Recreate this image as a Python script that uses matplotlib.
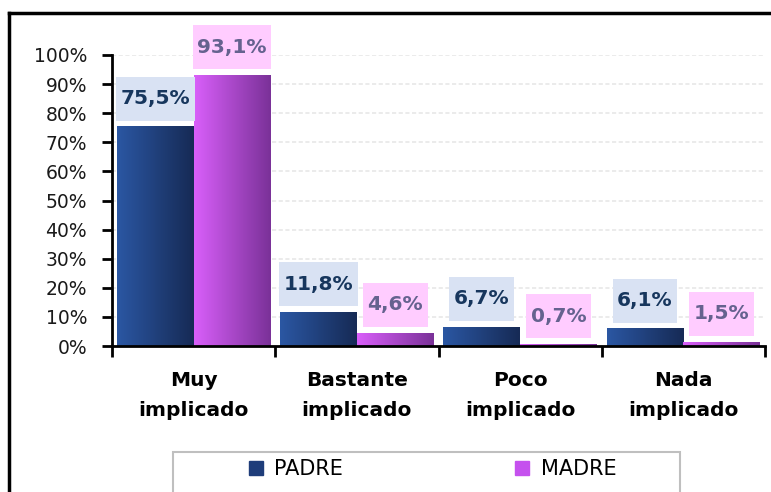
import numpy as np
import matplotlib
matplotlib.use("Agg")
import matplotlib.pyplot as plt
from matplotlib.colors import LinearSegmentedColormap
from matplotlib.patches import Rectangle
from matplotlib.lines import Line2D

categories = ["Muy\nimplicado", "Bastante\nimplicado", "Poco\nimplicado", "Nada\nimplicado"]
padre = [75.5, 11.8, 6.7, 6.1]
madre = [93.1, 4.6, 0.7, 1.5]
series_names = ["PADRE", "MADRE"]
yticks = np.arange(0, 101, 10)

# colour scheme: (gradient left, gradient right, label box, label text)
styles = {
    "PADRE": ("#2b57a3", "#162a55", "#d9e2f3", "#17365d"),
    "MADRE": ("#d95ffa", "#7a3198", "#ffccff", "#65628f"),
}

fig = plt.figure(figsize=(7.71, 4.92), dpi=100)
ax = fig.add_axes([112 / 771, 1 - 346 / 492, (765 - 112) / 771, (346 - 55) / 492])

x = np.arange(len(categories))
width = 0.47
grad = np.linspace(0, 1, 256).reshape(1, -1)

texts = []
for offset, name, vals in [(-width / 2, "PADRE", padre), (width / 2, "MADRE", madre)]:
    c0, c1, boxc, txtc = styles[name]
    cmap = LinearSegmentedColormap.from_list(name, [c0, c1])
    bars = ax.bar(x + offset, vals, width, facecolor="none", edgecolor="none", zorder=2)
    for rect, v in zip(bars, vals):
        bx, bw, bh = rect.get_x(), rect.get_width(), rect.get_height()
        im = ax.imshow(grad, extent=[bx, bx + bw, 0, bh], cmap=cmap,
                       aspect="auto", zorder=2)
        im.set_clip_path(rect)
        t = ax.text(bx + bw / 2, v + 9.5, f"{v:.1f}%".replace(".", ","),
                    ha="center", va="center", fontsize=14.5, fontweight="bold",
                    color=txtc, zorder=5, clip_on=False)
        texts.append((t, boxc))

ax.set_xlim(-0.5, len(categories) - 0.5)
ax.set_ylim(0, 100)

# grid and axes
ax.set_yticks(yticks)
ax.set_yticklabels([f"{v}%" for v in yticks], fontsize=13.5, color="#1a1a1a")
ax.yaxis.grid(True, color="#e8e8e8", linestyle=(0, (2.5, 1.5)), linewidth=1.2, zorder=0)
ax.set_axisbelow(True)
ax.set_xticks(np.arange(len(categories) + 1) - 0.5)
ax.set_xticklabels([])
ax.set_xticks(x, minor=True)
ax.set_xticklabels(categories, minor=True, fontsize=14.5, fontweight="bold",
                   linespacing=1.7)
ax.tick_params(axis="x", which="major", length=8, width=2, direction="out")
ax.tick_params(axis="x", which="minor", length=0, pad=18)
ax.tick_params(axis="y", length=7, width=2, direction="out", pad=11)
for s in ["top", "right"]:
    ax.spines[s].set_visible(False)
for s in ["left", "bottom"]:
    ax.spines[s].set_linewidth(2)

# label boxes sized from the rendered text
fig.canvas.draw()
renderer = fig.canvas.get_renderer()
inv = ax.transData.inverted()
for t, boxc in texts:
    ext = t.get_window_extent(renderer)
    cx, cy = (ext.x0 + ext.x1) / 2, (ext.y0 + ext.y1) / 2
    w, h = ext.width + 9, 44
    (x0, y0), (x1, y1) = inv.transform([(cx - w / 2, cy - h / 2), (cx + w / 2, cy + h / 2)])
    ax.add_patch(Rectangle((x0, y0), x1 - x0, y1 - y0, facecolor=boxc,
                           edgecolor="none", zorder=4, clip_on=False))

# outer chart border (top and left only visible)
fig.add_artist(Line2D([9 / 771, 1], [1 - 13 / 492] * 2, color="black", lw=2.5))
fig.add_artist(Line2D([9 / 771] * 2, [0, 1 - 13 / 492], color="black", lw=2.5))

# legend frame and entries
fig.add_artist(Rectangle((173 / 771, -0.05), (680 - 173) / 771, 0.05 + 1 - 452 / 492,
                         transform=fig.transFigure, facecolor="white",
                         edgecolor="#bfbfbf", lw=1.5))
handles = [Line2D([], [], marker="s", linestyle="none", markersize=9.5,
                  color=c) for c in ["#1f3d7a", "#c551ee"]]
fig.legend(handles, series_names, loc="center", bbox_to_anchor=(432 / 771, 1 - 469 / 492),
           ncol=2, frameon=False, fontsize=15, columnspacing=8.2,
           handletextpad=0.5, handlelength=0.8)

fig.savefig("out.png", dpi=100)
